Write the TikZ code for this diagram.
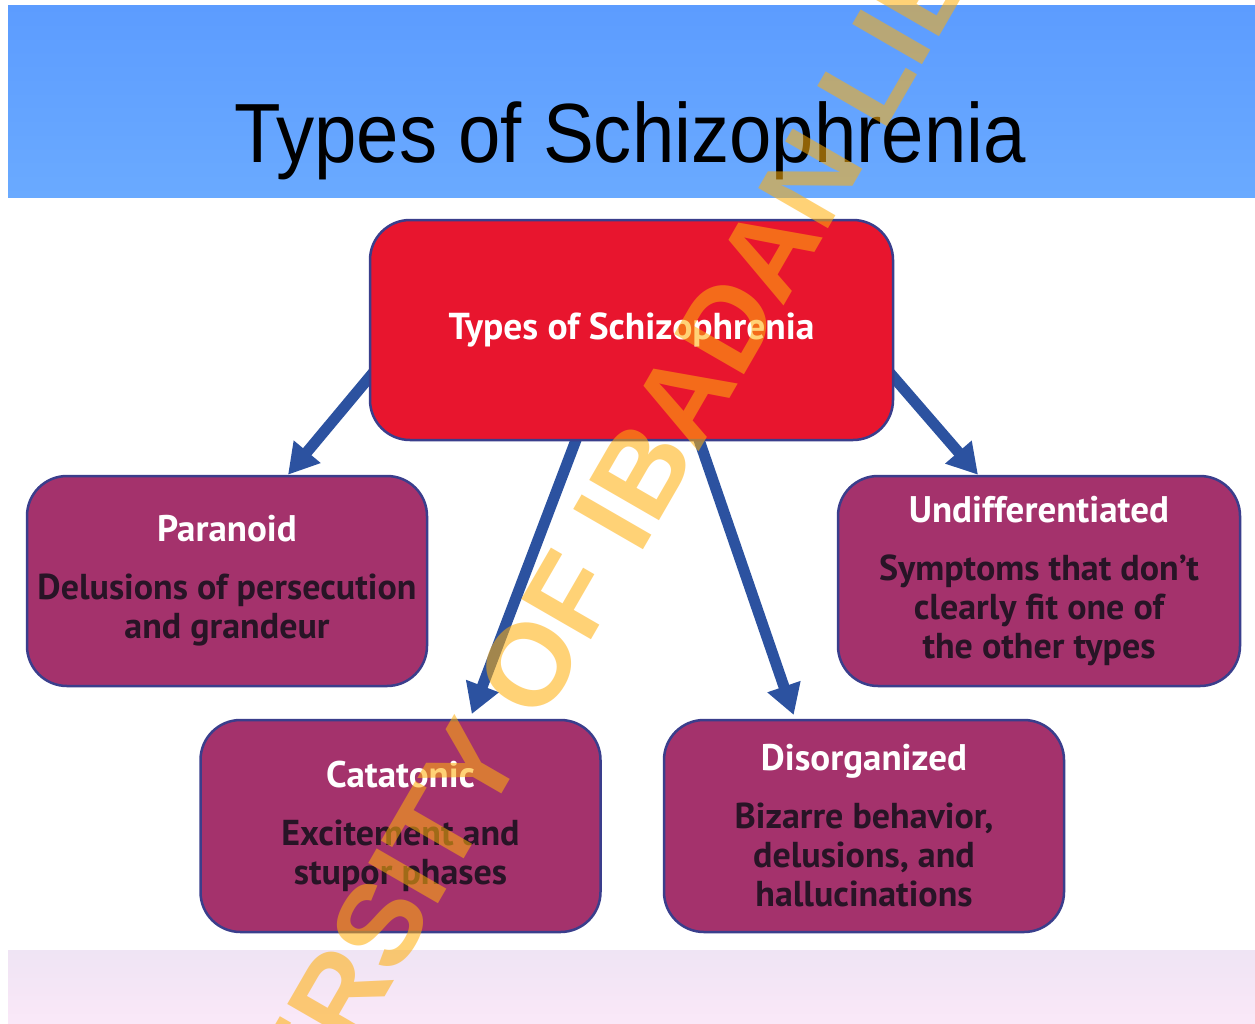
\documentclass[tikz,border=0pt]{standalone}
\usepackage{fontspec}
\setmainfont{Liberation Sans}
\newfontfamily\titlefont[FakeStretch=0.907]{Liberation Sans}
\newfontfamily\boxfont{PT Sans}
\newfontfamily\wmfont{Liberation Sans}
\usetikzlibrary{arrows.meta}
\pgfdeclarelayer{bg}
\pgfsetlayers{bg,main}
\definecolor{bandblue}{RGB}{92,156,255}
\definecolor{bandblue2}{RGB}{106,170,255}
\definecolor{boxred}{RGB}{232,21,46}
\definecolor{boxmag}{RGB}{164,50,108}
\definecolor{boxedge}{RGB}{58,62,140}
\definecolor{arrowblue}{RGB}{44,82,160}
\definecolor{desctext}{RGB}{40,20,38}
\definecolor{wmorange}{RGB}{255,175,12}
\definecolor{pinktop}{RGB}{239,228,244}
\definecolor{pinkbot}{RGB}{250,232,248}
\newcommand{\boxttl}[1]{\textcolor{white}{\fontsize{37}{39}\selectfont #1}}
\begin{document}
\begin{tikzpicture}[x=1pt,y=-1pt,
  box/.style={draw=boxedge, line width=2.5pt, rounded corners=40pt, align=center, inner sep=0pt,
    font=\boxfont\bfseries\fontsize{36}{39}\selectfont},
  mainbox/.style={box, fill=boxred, text=white, minimum width=523pt, minimum height=220pt,
    font=\boxfont\bfseries\fontsize{37.5}{40}\selectfont},
  typebox/.style={box, fill=boxmag, text=desctext, minimum width=400pt, minimum height=210pt},
  link/.style={draw=arrowblue, line width=11pt, shorten <=-15pt,
    -{Triangle[length=30pt,width=33pt]}},
  band/.style={draw=none},
  watermark/.style={rotate=60, inner sep=0pt, text=wmorange, text opacity=0.56,
    font=\wmfont\bfseries\fontsize{117}{117}\selectfont}]
\useasboundingbox (0,0) rectangle (1255,1023);

% title
\node[anchor=base, inner sep=0pt, font=\titlefont\fontsize{84}{90}\selectfont] (title) at (630,162) {Types of Schizophrenia};

% boxes
\node[mainbox] (main) at (631.5,330) {Types of Schizophrenia};
\node[typebox] (paranoid) at (227,581)
  {\boxttl{Paranoid}\\[19pt]Delusions of persecution\\and grandeur};
\node[typebox, minimum width=402pt] (undiff) at (1039,581)
  {\boxttl{Undifferentiated}\\[19pt]Symptoms that don’t\\clearly fit one of\\the other types};
\node[typebox, minimum height=212pt] (cat) at (400.5,826)
  {\boxttl{Catatonic}\\[19pt]Excitement and\\stupor phases};
\node[typebox, minimum height=212pt] (dis) at (864,826)
  {\boxttl{Disorganized}\\[19pt]Bizarre behavior,\\delusions, and\\hallucinations};

\begin{pgfonlayer}{bg}
  \fill[white] (0,0) rectangle (1255,1023);
  \shade[band, top color=bandblue, bottom color=bandblue2] (8,5) rectangle (1255,197);
  \shade[band, top color=pinktop, bottom color=pinkbot] (8,950) rectangle (1255,1023);
  \draw[link] ([yshift=-48pt]main.west) -- ([xshift=61pt]paranoid.north);
  \draw[link, shorten >=5pt] ([xshift=-56pt]main.south) -- ([xshift=69.5pt]cat.north);
  \draw[link, shorten >=4pt] ([xshift=68pt]main.south) -- ([xshift=-69pt]dis.north);
  \draw[link] ([yshift=-48pt]main.east) -- ([xshift=-61pt]undiff.north);
\end{pgfonlayer}

% watermark
\begin{scope}
  \clip (0,0) rectangle (1255,1023);
  \node[watermark] (wm) at (623,504) {UNIVERSITY OF IBADAN LIBRARY};
\end{scope}
\end{tikzpicture}
\end{document}
